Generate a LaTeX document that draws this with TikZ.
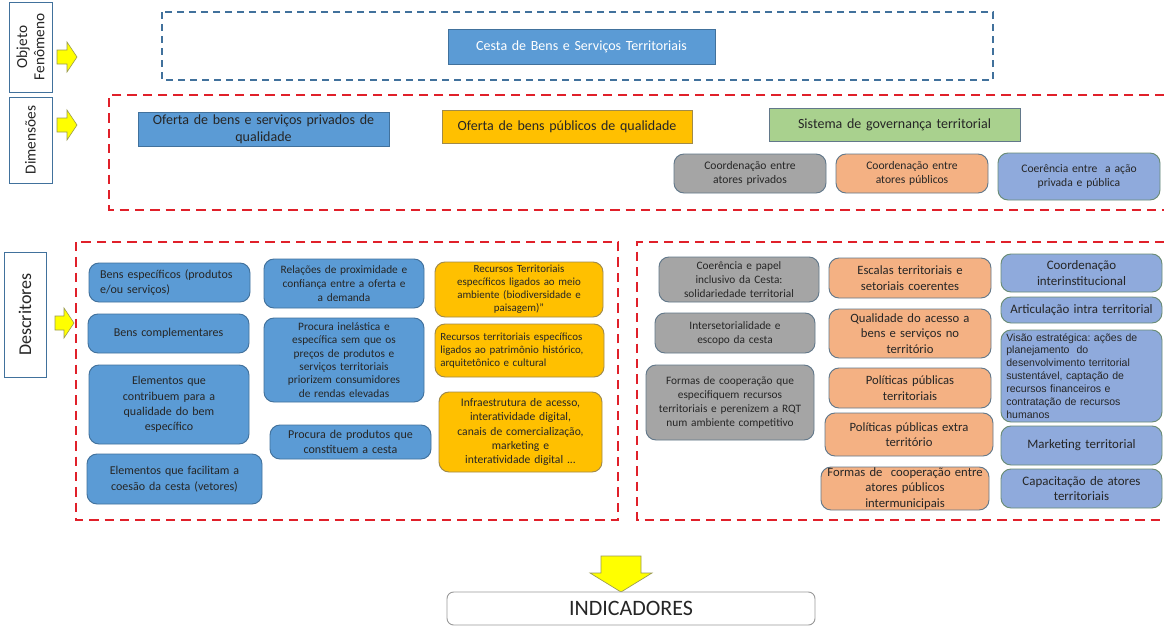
\documentclass[tikz,border=0pt]{standalone}
\usepackage{fontspec}
\setmainfont{Carlito}
\newfontfamily\arialf{Liberation Sans}
\frenchspacing
\definecolor{cblue}{HTML}{5B9BD5}
\definecolor{cblueb}{HTML}{41719C}
\definecolor{corange}{HTML}{FFC000}
\definecolor{corangeb}{HTML}{A08A4A}
\definecolor{cgreen}{HTML}{A9D18E}
\definecolor{cgray}{HTML}{A5A5A5}
\definecolor{csalmon}{HTML}{F4B183}
\definecolor{clblue}{HTML}{8FAADC}
\definecolor{clblueb}{HTML}{6A8C76}
\definecolor{cred}{HTML}{E0202A}
\definecolor{cbord}{HTML}{62788A}
\definecolor{ctext}{HTML}{262626}
\definecolor{cyel}{HTML}{FFFF00}
\definecolor{cyelb}{HTML}{9A9A50}
\newcommand{\mybox}[7]{%
  \pgfmathsetmacro{\mbw}{(#5-#3)*0.75}%
  \pgfmathsetmacro{\mbh}{(#6-#4)*0.75}%
  \pgfmathsetmacro{\mbt}{(#5-#3)*0.75-8}%
  \node[inner xsep=4pt, inner ysep=0pt, minimum width=\mbw pt, minimum height=\mbh pt, text width=\mbt pt, #2] (#1) at ({(#3+#5)/2},{(#4+#6)/2}) {#7};%
}
\tikzset{
  x=0.75pt, y=-0.75pt,
  fs/.style 2 args={font=\frenchspacing\fontsize{#1}{#2}\selectfont},
  sq/.style={draw, line width=0.7pt, align=center, text=ctext},
  rb/.style={draw=cbord, line width=0.7pt, rounded corners=7.5pt, align=center, text=ctext},
  bluebox/.style={rb, fill=cblue, draw=cblueb},
  orbox/.style={rb, fill=corange, draw=corangeb},
  graybox/.style={rb, fill=cgray},
  salbox/.style={rb, fill=csalmon},
  lbbox/.style={rb, fill=clblue, draw=clblueb},
  labelbox/.style={draw=cblueb, line width=0.7pt, fill=white, text=ctext, align=center},
  reddash/.style={draw=cred, line width=1.6pt, dash pattern=on 7pt off 4.5pt},
  bluedash/.style={draw=cblueb, line width=1.1pt, dash pattern=on 5.5pt off 3.5pt},
  yarrow/.style={fill=cyel, draw=cyelb, line width=0.5pt},
}
\begin{document}
\begin{tikzpicture}
\useasboundingbox (0,0) rectangle (1164,626);
\fill[white] (0,0) rectangle (1164,626);

% left labels
\node[labelbox, minimum width=67.5pt, minimum height=32.25pt, rotate=90, fs={11.5}{13}] (lobj) at (30.5,47) {Objeto\\Fenômeno};
\node[labelbox, minimum width=64.5pt, minimum height=32.25pt, rotate=90, fs={11.5}{13}] (ldim) at (30.5,140) {Dimensões};
\node[labelbox, minimum width=93.75pt, minimum height=31.5pt, rotate=90, fs={13.5}{15}] (ldesc) at (25,314.5) {Descritores};

% yellow arrows
\draw[yarrow] (57,50) -- (67,50) -- (67,42) -- (77,57) -- (67,72) -- (67,64) -- (57,64) -- cycle;
\draw[yarrow] (57,118) -- (67,118) -- (67,110) -- (77,125) -- (67,140) -- (67,132) -- (57,132) -- cycle;
\draw[yarrow] (55,316) -- (64,316) -- (64,308) -- (74,323) -- (64,338) -- (64,330) -- (55,330) -- cycle;
\draw[yarrow] (601,556) -- (641,556) -- (641,573) -- (652,573) -- (621,592) -- (590,573) -- (601,573) -- cycle;

% dashed frames
\draw[bluedash] (162,12) rectangle (993,80);
\draw[reddash] (1164,95) -- (109,95) -- (109,210) -- (1164,210);
\draw[reddash] (76,242) rectangle (618,520);
\draw[reddash] (1164,242) -- (637,242) -- (637,520) -- (1164,520);

% object
\mybox{cesta}{sq, fill=cblue, draw=cblueb, text=white, fs={10.5}{12.5}}{448}{29}{715}{64}{Cesta de Bens e Serviços Territoriais}

% dimensions
\mybox{dpriv}{sq, fill=cblue, draw=cblueb, fs={10.5}{12.5}}{138}{112}{389}{146}{Oferta de bens e serviços privados de\\qualidade}
\mybox{dpub}{sq, fill=corange, draw=corangeb, fs={10.5}{12.5}}{442}{110}{692}{143}{Oferta de bens públicos de qualidade}
\mybox{dgov}{sq, fill=cgreen, draw=cbord, fs={10.5}{12.5}}{769}{108}{1020}{141}{Sistema de governança territorial}
\mybox{dg1}{graybox, fs={8.7}{10.5}}{674}{154}{826}{193}{Coordenação entre\\atores privados}
\mybox{dg2}{salbox, fs={8.7}{10.5}}{836}{154}{988}{193}{Coordenação entre\\atores públicos}
\mybox{dg3}{lbbox, fs={8.7}{10.5}}{998}{153}{1160}{200}{Coerência entre\ \ a ação\\privada e pública}

% descriptors - private
\mybox{p1}{bluebox, fs={9}{11}, align=left, text width=104pt}{89}{263}{250}{302}{Bens específicos (produtos\\e/ou serviços)}
\mybox{p2}{bluebox, fs={9}{11}}{88}{314}{249}{353}{Bens complementares}
\mybox{p3}{bluebox, fs={9}{11.5}}{89}{365}{249}{444}{Elementos que\\contribuem para a\\qualidade do bem\\específico}
\mybox{p4}{bluebox, fs={9}{11.5}}{87}{454}{262}{504}{Elementos que facilitam a\\coesão da cesta (vetores)}
\mybox{p5}{bluebox, fs={8.5}{10.5}}{264}{259}{424}{308}{Relações de proximidade e\\confiança entre a oferta e\\a demanda}
\mybox{p6}{bluebox, fs={8.5}{10}}{264}{318}{424}{402}{Procura inelástica e\\específica sem que os\\preços de produtos e\\serviços territoriais\\priorizem consumidores\\de rendas elevadas}
\mybox{p7}{bluebox, fs={9}{11}}{270}{425}{431}{459}{Procura de produtos que\\constituem a cesta}

% descriptors - public goods
\mybox{o1}{orbox, fs={8.2}{9.8}}{435}{262}{603}{317}{Recursos Territoriais\\específicos ligados ao meio\\ambiente (biodiversidade e\\paisagem)”}
\mybox{o2}{orbox, fs={8.2}{10}, align=left}{435}{324}{604}{377}{Recursos territoriais específicos\\ligados ao patrimônio histórico,\\arquitetônico e cultural}
\mybox{o3}{orbox, fs={8.7}{10.7}}{439}{392}{602}{472}{Infraestrutura de acesso,\\interatividade digital,\\canais de comercialização,\\marketing e\\interatividade digital ...}

% descriptors - governance: private coordination
\mybox{g1}{graybox, fs={8.5}{10.5}}{659}{257}{819}{302}{Coerência e papel\\inclusivo da Cesta:\\solidariedade territorial}
\mybox{g2}{graybox, fs={8.5}{10.5}}{655}{313}{815}{353}{Intersetorialidade e\\escopo da cesta}
\mybox{g3}{graybox, fs={8.5}{10.5}}{646}{365}{814}{440}{Formas de cooperação que\\especifiquem recursos\\territoriais e perenizem a RQT\\num ambiente competitivo}

% public coordination
\mybox{s1}{salbox, fs={9.5}{11.5}}{829}{258}{991}{298}{Escalas territoriais e\\setoriais coerentes}
\mybox{s2}{salbox, fs={9.5}{11.5}}{829}{309}{991}{358}{Qualidade do acesso a\\bens e serviços no\\território}
\mybox{s3}{salbox, fs={9.5}{11.5}}{829}{368}{991}{408}{Políticas públicas\\territoriais}
\mybox{s4}{salbox, fs={9.5}{11.5}}{825}{413}{993}{456}{Políticas públicas extra\\território}
\mybox{s5}{salbox, fs={9.5}{11.5}}{821}{467}{989}{510}{Formas de\ \ cooperação entre\\atores públicos\\intermunicipais}

% coherence
\mybox{b1}{lbbox, fs={9.7}{11.5}}{1001}{254}{1162}{292}{Coordenação\\interinstitucional}
\mybox{b2}{lbbox, fs={9.7}{11.5}}{1001}{297}{1162}{323}{Articulação intra territorial}
\mybox{b3}{lbbox, font=\frenchspacing\arialf\fontsize{7.9}{9.7}\selectfont, align=left}{1001}{330}{1162}{422}{Visão estratégica: ações de\\planejamento\ \ do\\desenvolvimento territorial\\sustentável, captação de\\recursos financeiros e\\contratação de recursos\\humanos}
\mybox{b4}{lbbox, fs={9.7}{11.5}}{1001}{426}{1162}{465}{Marketing territorial}
\mybox{b5}{lbbox, fs={9.7}{11.5}}{1001}{469}{1162}{508}{Capacitação de atores\\territoriais}

% indicators
\mybox{ind}{draw=gray!80, line width=0.7pt, rounded corners=5pt, fill=white, align=center, text=ctext, fs={16.5}{19}}{447}{592}{815}{625}{INDICADORES}
\end{tikzpicture}
\end{document}
